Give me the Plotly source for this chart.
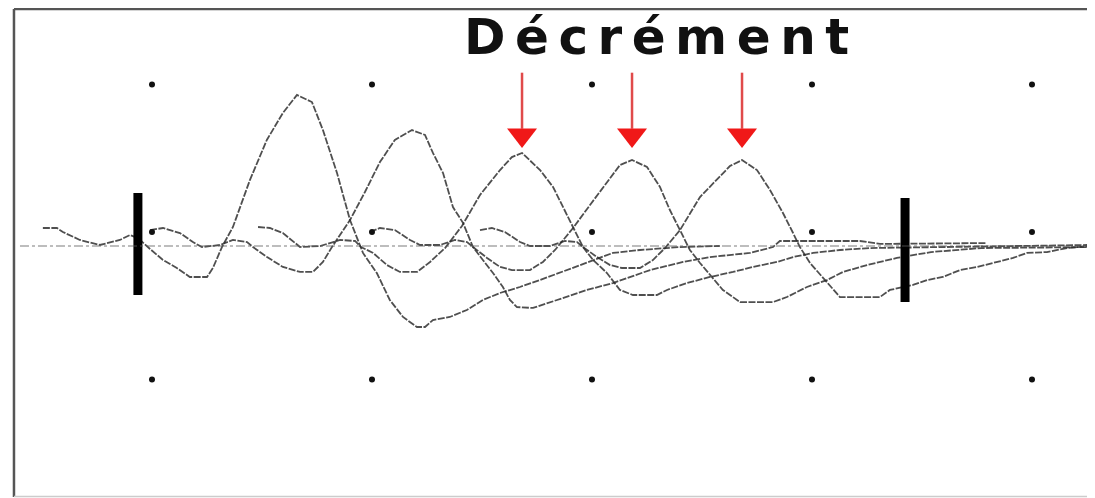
import plotly.graph_objects as go

# ---- data (time in ms, amplitude in mV) ----
stim_ms = [-0.64, 4.59, 9.5, 14.59, 19.59]      # start offset of each response
baseline_mV = -0.95

t1 = [-4.32, -3.68, -3.41, -2.64, -1.73, -0.82, -0.36, 0, 0.55, 1.14, 1.77, 2.36, 3.14, 3.41, 3.82, 4.32, 5.09, 5.86, 6.59, 7.23, 7.91, 8.41, 9.05, 9.64, 10.23, 10.86, 11.45, 12.05, 12.68, 13.05, 13.41, 14.18, 14.95, 15.68, 16.45, 17.36, 18.27, 19.5, 20.68, 21.59, 22.82, 24.64, 26.45]
a1 = [1.22, 1.22, 0.95, 0.41, 0.07, 0.41, 0.75, 0.54, -0.2, -0.95, -1.49, -2.10, -2.10, -1.49, -0.07, 1.29, 4.47, 7.19, 9.02, 10.24, 9.76, 7.86, 4.95, 1.76, -0.47, -1.83, -3.66, -4.81, -5.49, -5.49, -5.02, -4.81, -4.34, -3.66, -3.19, -2.78, -2.31, -1.63, -0.95, -0.47, -0.27, -0.07, 0]

t2 = [-4.68, -4.09, -3.32, -2.73, -2.32, -1.5, -0.91, -0.27, 0, 0.64, 1.36, 2.14, 2.73, 3.18, 3.59, 4.41, 5.09, 5.77, 6.45, 7.23, 7.82, 8.18, 8.64, 9.09, 9.55, 10.0, 10.45, 10.91, 11.36, 11.68, 12.0, 12.73, 13.82, 15.18, 16.36, 18.05, 19.55, 20.77, 22.59, 23.64, 23.95, 27.59, 28.5, 33.36]
a2 = [1.08, 1.22, 0.88, 0.27, -0.07, 0.07, 0.41, 0.27, -0.07, -0.75, -1.42, -1.76, -1.76, -1.08, -0.07, 1.76, 3.66, 5.69, 7.19, 7.86, 7.53, 6.31, 4.95, 2.64, 1.56, -0.07, -0.95, -1.83, -2.78, -3.66, -4.14, -4.20, -3.66, -2.98, -2.51, -1.63, -1.08, -0.75, -0.47, -0.07, 0.34, 0.34, 0.14, 0.2]

t3 = [-4.68, -4.14, -3.55, -2.77, -1.86, -0.95, -0.27, 0, 0.55, 1.18, 1.77, 2.55, 3.14, 3.82, 4.59, 5.41, 6.32, 6.86, 7.32, 8.14, 8.73, 9.18, 9.64, 10.09, 10.55, 11.18, 11.77, 12.36, 13.45, 13.91, 14.82, 15.86, 16.91, 17.82, 18.91, 19.64, 20.55, 21.77, 23.14, 33.09]
a3 = [1.29, 1.22, 0.88, -0.07, 0, 0.41, 0.34, -0.07, -0.47, -1.29, -1.76, -1.76, -1.08, -0.14, 1.36, 3.46, 5.15, 6.03, 6.31, 5.15, 4.0, 2.64, 1.29, -0.07, -0.95, -1.83, -2.98, -3.32, -3.32, -2.98, -2.51, -2.10, -1.76, -1.42, -1.08, -0.75, -0.47, -0.27, -0.14, 0.07]

t4 = [-4.68, -4.23, -3.55, -2.86, -2.41, -1.5, -0.82, -0.27, 0, 0.64, 1.23, 1.77, 2.59, 3.18, 3.73, 4.55, 5.32, 6.0, 6.68, 7.23, 7.91, 8.5, 8.95, 9.41, 9.86, 10.32, 10.77, 11.36, 12.14, 13.64, 14.27, 15.18, 16.09, 16.82, 17.91, 19.27, 20.82, 23.09, 28.32]
a4 = [0.95, 1.22, 1.08, 0.41, 0.07, 0.07, 0.41, 0.27, -0.07, -0.81, -1.42, -1.63, -1.63, -1.08, -0.27, 1.22, 2.78, 4.14, 5.49, 5.83, 5.36, 4.0, 2.44, 1.08, -0.27, -1.15, -1.97, -2.98, -3.80, -3.80, -3.46, -2.78, -2.31, -1.76, -1.29, -0.81, -0.41, -0.14, -0.07]

t5 = [-4.68, -4.14, -3.55, -2.86, -2.41, -1.5, -0.82, -0.27, 0, 0.64, 1.23, 1.77, 2.59, 3.18, 3.73, 4.41, 5.32, 6.09, 6.68, 7.23, 7.91, 8.5, 9.09, 9.55, 9.86, 10.32, 11.0, 11.68, 13.5, 13.95, 15.0, 15.64, 16.36, 17.14, 17.91, 18.64, 19.55, 20.18, 21.09, 22.0, 23.6]
a5 = [1.08, 1.22, 0.95, 0.27, 0, 0, 0.34, 0.27, -0.07, -0.75, -1.29, -1.49, -1.49, -0.95, -0.14, 1.08, 3.32, 4.47, 5.42, 5.83, 5.15, 3.80, 2.24, 0.88, -0.07, -1.15, -2.31, -3.46, -3.46, -2.98, -2.64, -2.31, -2.10, -1.63, -1.42, -1.15, -0.81, -0.47, -0.41, -0.14, 0.07]

responses_t = [t1, t2, t3, t4, t5]
responses_a = [a1, a2, a3, a4, a5]

grid_x = [0, 10, 20, 30, 40]
grid_y = [10, 0, -10]

cursor_x = [-0.64, 34.23]
cursor_top = [2.64, 2.31]
cursor_bottom = [-4.27, -4.75]

arrow_responses = [2, 3, 4]      # responses marked as decrement
arrow_top = 10.8
arrow_shaft_end = 7.0
arrow_head_y = 6.58
title_text = "Décrément"

# ---- figure ----
fig = go.Figure()

# baseline reference
fig.add_shape(type="line", xref="x", yref="y", x0=-6.0, x1=43.5,
              y0=baseline_mV, y1=baseline_mV,
              line=dict(color="rgba(90,90,90,0.8)", width=1, dash="dashdot"))

for k in range(5):
    xs = [stim_ms[k] + t for t in responses_t[k]]
    ys = [baseline_mV + a for a in responses_a[k]]
    fig.add_trace(go.Scatter(x=xs, y=ys, mode="lines",
                             line=dict(color="rgba(40,40,40,0.82)", width=1.8, dash="7px,1.5px"),
                             hoverinfo="skip", showlegend=False))

# grid dots
gx = [x for y in grid_y for x in grid_x]
gy = [y for y in grid_y for x in grid_x]
fig.add_trace(go.Scatter(x=gx, y=gy, mode="markers",
                         marker=dict(color="#111", size=6), hoverinfo="skip", showlegend=False))

# cursors
for cx, ct, cb in zip(cursor_x, cursor_top, cursor_bottom):
    fig.add_trace(go.Scatter(x=[cx, cx], y=[cb, ct], mode="lines",
                             line=dict(color="#000", width=9), hoverinfo="skip", showlegend=False))

# red arrows at the peaks of the later responses
for k in arrow_responses:
    amps = responses_a[k]
    i = amps.index(max(amps))
    px = stim_ms[k] + responses_t[k][i]
    fig.add_trace(go.Scatter(x=[px, px], y=[arrow_top, arrow_shaft_end], mode="lines",
                             line=dict(color="#e04a4a", width=2.5), hoverinfo="skip", showlegend=False))
    fig.add_trace(go.Scatter(x=[px], y=[arrow_head_y], mode="markers",
                             marker=dict(symbol="triangle-down", size=26, color="#f01818",
                                         line=dict(width=0)),
                             hoverinfo="skip", showlegend=False))

fig.add_annotation(x=23.18, y=13.2, xref="x", yref="y", showarrow=False,
                   text='<b><span style="letter-spacing:9.5px">' + title_text + '</span></b>',
                   font=dict(family="DejaVu Sans", size=50, color="#111"),
                   xanchor="center", yanchor="middle")

# frame
fig.add_shape(type="line", xref="paper", yref="paper", x0=0.0055, x1=0.0055, y0=0.002, y1=0.998,
              line=dict(color="#555", width=2.5))
fig.add_shape(type="line", xref="paper", yref="paper", x0=0.0055, x1=1.0, y0=0.998, y1=0.998,
              line=dict(color="#555", width=2.5))
fig.add_shape(type="line", xref="paper", yref="paper", x0=0.0055, x1=1.0, y0=0.003, y1=0.003,
              line=dict(color="#ccc", width=1.5))

fig.update_xaxes(range=[-6.545, 42.864], visible=False, showgrid=False, zeroline=False)
fig.update_yaxes(range=[-18.034, 15.186], visible=False, showgrid=False, zeroline=False)
fig.update_layout(width=1087, height=490, margin=dict(l=0, r=0, t=0, b=0, pad=0),
                  plot_bgcolor="white", paper_bgcolor="white", showlegend=False)

fig.write_html("out.html")
